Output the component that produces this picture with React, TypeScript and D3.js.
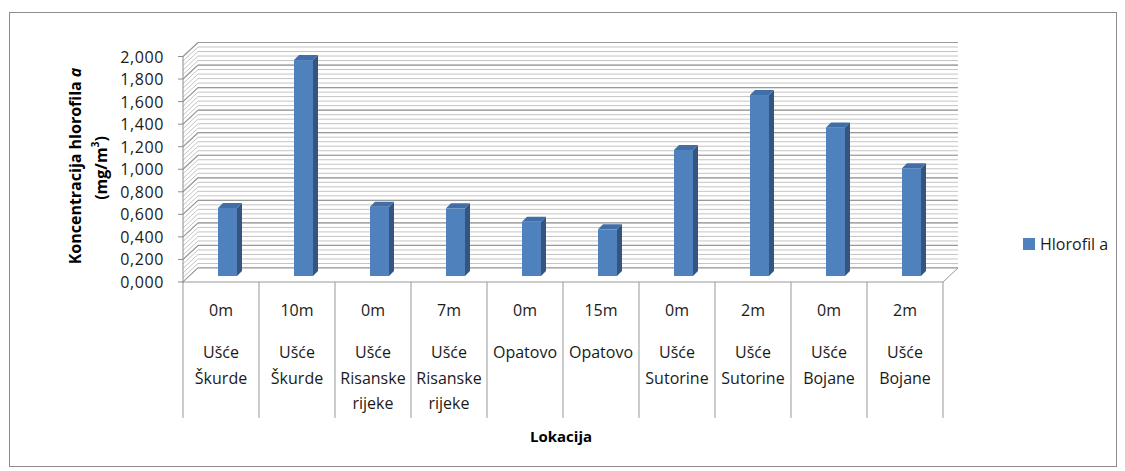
import React from "react";
import * as d3 from "d3";

const depths = ["0m", "10m", "0m", "7m", "0m", "15m", "0m", "2m", "0m", "2m"];
const siteLines = [
  ["Ušće", "Škurde"],
  ["Ušće", "Škurde"],
  ["Ušće", "Risanske", "rijeke"],
  ["Ušće", "Risanske", "rijeke"],
  ["Opatovo"],
  ["Opatovo"],
  ["Ušće", "Sutorine"],
  ["Ušće", "Sutorine"],
  ["Ušće", "Bojane"],
  ["Ušće", "Bojane"],
];
const hlorofil = [0.603, 1.915, 0.615, 0.6, 0.481, 0.414, 1.117, 1.605, 1.318, 0.955];
const yTicks = [0, 0.2, 0.4, 0.6, 0.8, 1.0, 1.2, 1.4, 1.6, 1.8, 2.0];
const seriesName = "Hlorofil a";

const W = 1125;
const H = 471;
const FONT = "'Open Sans', 'DejaVu Sans', sans-serif";

export default function App() {
  const cats = depths.map((_, i) => String(i));
  const x = d3.scaleBand<string>().domain(cats).range([183, 943]).paddingInner(0).paddingOuter(0);
  const y = d3.scaleLinear().domain([0, 2]).range([282, 56.5]);
  const minorTicks = d3.range(0, 2.0001, 0.04);

  const back = { dx: 15, dy: -14 };
  const barPlane = { dx: 6.5, dy: -6 };
  const barDepth = { dx: 5, dy: -5 };
  const barW = 19;

  const x0 = x.range()[0];
  const x1 = x.range()[1];
  const yb = (v: number) => y(v) + back.dy;

  const fmt = (v: number) => v.toFixed(3).replace(".", ",");

  return (
    <svg
      width={W}
      height={H}
      style={{ position: "absolute", left: 0, top: 0, background: "#fff" }}
      fontFamily={FONT}
    >
      <rect x={9.5} y={12.5} width={1107} height={454} fill="#fff" stroke="#8c8c8c" />

      {/* back wall */}
      <rect x={x0 + back.dx} y={yb(2)} width={x1 - x0} height={y(0) - y(2)} fill="#fff" />
      {minorTicks.map((v, i) => (
        <line
          key={"bm" + i}
          x1={x0 + back.dx}
          x2={x1 + back.dx}
          y1={yb(v)}
          y2={yb(v)}
          stroke="#c4c4c4"
          strokeWidth={1}
        />
      ))}
      {yTicks.map((v, i) => (
        <line
          key={"bM" + i}
          x1={x0 + back.dx}
          x2={x1 + back.dx}
          y1={yb(v)}
          y2={yb(v)}
          stroke="#999"
          strokeWidth={1.2}
        />
      ))}
      {/* side wall */}
      {minorTicks.map((v, i) => (
        <line key={"sm" + i} x1={x0} y1={y(v)} x2={x0 + back.dx} y2={yb(v)} stroke="#c4c4c4" />
      ))}
      {yTicks.map((v, i) => (
        <line
          key={"sM" + i}
          x1={x0}
          y1={y(v)}
          x2={x0 + back.dx}
          y2={yb(v)}
          stroke="#999"
          strokeWidth={1.2}
        />
      ))}
      {/* floor */}
      <path
        d={`M${x0},${y(0)}L${x1},${y(0)}L${x1 + back.dx},${yb(0)}L${x0 + back.dx},${yb(0)}Z`}
        fill="#fff"
        stroke="#999"
      />

      {/* bars */}
      {hlorofil.map((v, i) => {
        const slotC = (x(cats[i]) as number) + x.bandwidth() / 2;
        const bx = slotC - barW / 2 + barPlane.dx;
        const top = y(v) + barPlane.dy;
        const base = y(0) + barPlane.dy;
        const r = bx + barW;
        return (
          <g key={"bar" + i}>
            <rect x={bx} y={top} width={barW} height={base - top} fill="#4f81bd" />
            <path
              d={`M${r},${top}L${r + barDepth.dx},${top + barDepth.dy}L${r + barDepth.dx},${base + barDepth.dy}L${r},${base}Z`}
              fill="#34557f"
            />
            <path
              d={`M${bx},${top}L${bx + barDepth.dx},${top + barDepth.dy}L${r + barDepth.dx},${top + barDepth.dy}L${r},${top}Z`}
              fill="#3f6ea8"
            />
          </g>
        );
      })}

      {/* y axis */}
      <line x1={x0} x2={x0} y1={y(2)} y2={y(0) + 1} stroke="#8c8c8c" />
      {yTicks.map((v, i) => (
        <g key={"yt" + i}>
          <line x1={x0 - 5} x2={x0} y1={y(v)} y2={y(v)} stroke="#8c8c8c" />
          <text
            x={164}
            y={y(v)}
            textAnchor="end"
            dominantBaseline="central"
            fontSize={16}
            letterSpacing={0.6}
            fill="#1a1a1a"
          >
            {fmt(v)}
          </text>
        </g>
      ))}

      {/* category table */}
      {d3.range(cats.length + 1).map((i) => {
        const xx = x0 + i * x.bandwidth();
        return <line key={"cv" + i} x1={xx} x2={xx} y1={y(0)} y2={418} stroke="#999" />;
      })}
      {cats.map((c, i) => {
        const cx = (x(c) as number) + x.bandwidth() / 2;
        return (
          <g key={"cl" + i} fontSize={16} fill="#1a1a1a" textAnchor="middle">
            <text x={cx} y={310} dominantBaseline="central">
              {depths[i]}
            </text>
            {siteLines[i].map((t, j) => (
              <text key={j} x={cx} y={352 + j * 25.5} dominantBaseline="central">
                {t}
              </text>
            ))}
          </g>
        );
      })}

      {/* axis titles */}
      <text
        x={561}
        y={436}
        textAnchor="middle"
        dominantBaseline="central"
        fontSize={15}
        fontWeight="bold"
        fill="#000"
      >
        Lokacija
      </text>
      <g transform="translate(75,166) rotate(-90)">
        <text textAnchor="middle" dominantBaseline="central" fontSize={16} fontWeight="bold" fill="#000">
          Koncentracija  hlorofila <tspan fontStyle="italic">a</tspan>
        </text>
      </g>
      <g transform="translate(101,168) rotate(-90)">
        <text textAnchor="middle" dominantBaseline="central" fontSize={16} fontWeight="bold" fill="#000">
          (mg/m<tspan dy={-6} fontSize={10}>3</tspan><tspan dy={6}>)</tspan>
        </text>
      </g>

      {/* legend */}
      <rect x={1023} y={238} width={12} height={12} fill="#4f81bd" />
      <text x={1040} y={244} dominantBaseline="central" fontSize={16} fill="#1a1a1a">
        {seriesName}
      </text>
    </svg>
  );
}
